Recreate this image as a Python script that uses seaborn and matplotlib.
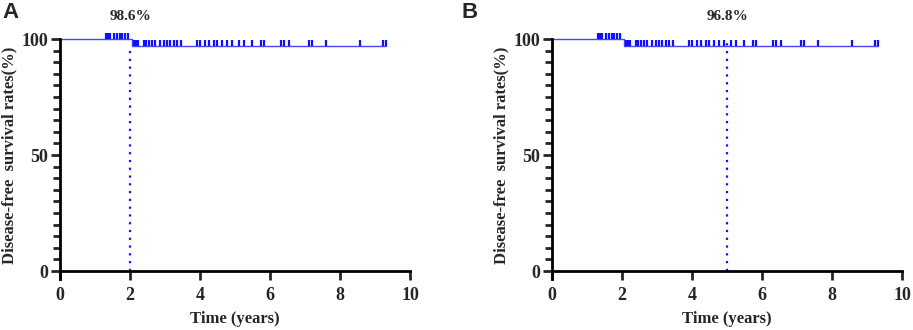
import numpy as np
import pandas as pd
import matplotlib
matplotlib.use("Agg")
import matplotlib.pyplot as plt
from matplotlib.ticker import MultipleLocator
from matplotlib.markers import TICKUP
import seaborn as sns

# Kaplan-Meier step (years, % disease-free)
step_times = [0, 2.05, 9.31]
step_surv = [100, 97.1, 97.1]

# censored follow-up times (years)
censor_times = [1.30, 1.36, 1.43, 1.55, 1.62, 1.70, 1.78, 1.86, 1.95,
                2.10, 2.17, 2.24, 2.39, 2.46, 2.53, 2.63, 2.72, 2.87, 2.96,
                3.06, 3.15, 3.25, 3.35, 3.45, 3.92, 4.01, 4.15, 4.25, 4.39,
                4.49, 4.63, 4.78, 4.92, 5.11, 5.25, 5.49, 5.73, 5.82, 6.30,
                6.40, 6.54, 7.11, 7.21, 7.59, 8.57, 9.22, 9.31]

panels = ["A", "B"]
landmarks = [2, 5]
landmark_labels = ["98.6%", "96.8%"]

sns.set_style("ticks")
plt.rcParams['font.family'] = ['Liberation Serif', 'DejaVu Serif']

line_col = "#4646ff"
mark_col = "#1010ff"

fig = plt.figure(figsize=(9.13, 3.30), dpi=100)
lefts = [60 / 913, 552 / 913]
width = 350 / 913
bottom = 1 - 271 / 330
height = 232 / 330

curve = pd.DataFrame({"t": step_times, "s": step_surv})
cens = pd.DataFrame({"t": censor_times})
cens["s"] = np.where(cens["t"] < step_times[1], step_surv[0], step_surv[1])

for i, letter in enumerate(panels):
    ax = fig.add_axes([lefts[i], bottom, width, height])
    sns.lineplot(data=curve, x="t", y="s", drawstyle="steps-post",
                 color=line_col, linewidth=1.0, ax=ax, clip_on=False)
    # censor marks point upward from the curve
    sns.scatterplot(data=cens, x="t", y="s", marker=TICKUP, s=18,
                    color=mark_col, linewidth=1.6, ax=ax, zorder=3,
                    clip_on=False)
    lm = landmarks[i]
    top = step_surv[1] if i == 0 else 100
    ax.plot([lm, lm], [0, top], linestyle=(0, (1, 2.5)), color=mark_col,
            linewidth=1.6)
    ax.text(lm, 107, landmark_labels[i], ha="center", va="bottom",
            fontsize=11, fontweight="bold")

    ax.set_xlim(0, 10)
    ax.set_ylim(0, 100)
    ax.set_xticks([0, 2, 4, 6, 8, 10])
    ax.set_yticks([0, 50, 100])
    ax.yaxis.set_minor_locator(MultipleLocator(5))
    for s in ["top", "right"]:
        ax.spines[s].set_visible(False)
    for s in ["left", "bottom"]:
        ax.spines[s].set_linewidth(2.0)
        ax.spines[s].set_color("black")
    ax.spines["left"].set_bounds(-3.5, 100)
    ax.tick_params(axis="both", which="major", length=6.5, width=2.0,
                   labelsize=13, pad=2)
    ax.tick_params(axis="x", pad=5)
    ax.tick_params(axis="y", which="minor", length=5, width=2.0)
    for lab in ax.get_xticklabels() + ax.get_yticklabels():
        lab.set_fontweight("bold")
    ax.set_xlabel("Time (years)", fontsize=12, fontweight="bold", labelpad=5)
    ax.set_ylabel("Disease-free  survival rates(%)", fontsize=12,
                  fontweight="bold", labelpad=3)
    ax.patch.set_alpha(0)

fig.text(2 / 913, 1 - 2 / 330, "A", ha="left", va="top", fontsize=16,
         fontweight="bold", family=["Liberation Sans", "DejaVu Sans"])
fig.text(461 / 913, 1 - 2 / 330, "B", ha="left", va="top", fontsize=16,
         fontweight="bold", family=["Liberation Sans", "DejaVu Sans"])

fig.savefig("out.png", dpi=100)
